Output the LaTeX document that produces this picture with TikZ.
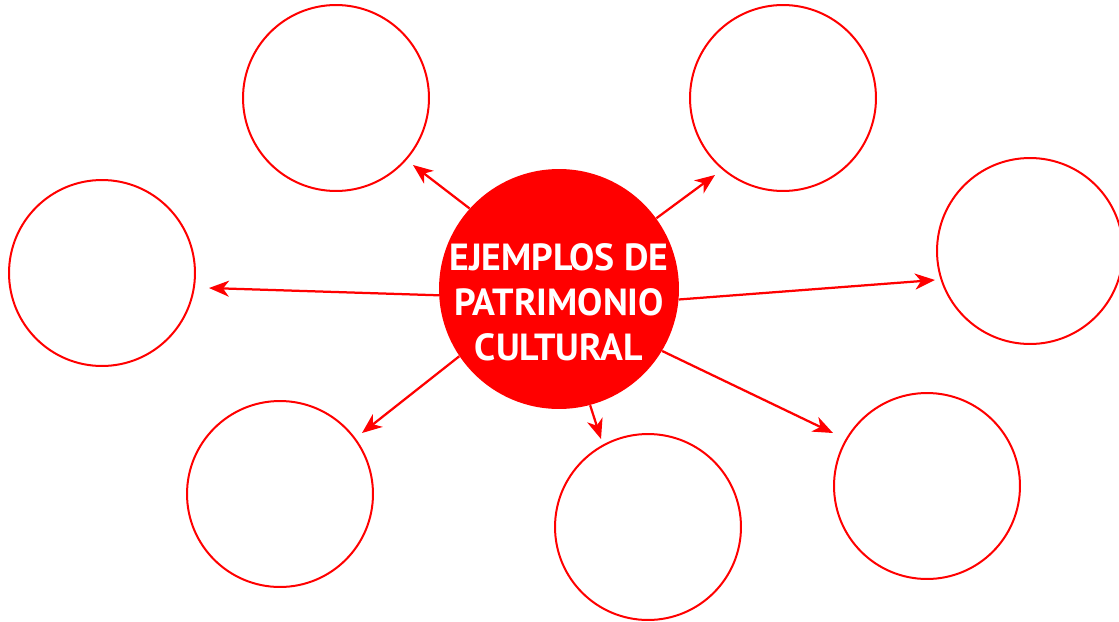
\documentclass[tikz,border=0pt]{standalone}
\usepackage{fontspec}
\setsansfont{PT Sans}
\usepackage{xcolor}
\usepackage{tikz}
\usetikzlibrary{arrows.meta,positioning,calc}
\definecolor{rojo}{RGB}{255,0,0}
\tikzset{
    circulo/.style={
        circle,
        draw=rojo,
        line width=0.04cm,
        minimum size=3.72cm,
        inner sep=0pt
    },
    central/.style={
        circle,
        fill=rojo,
        minimum size=4.8cm,
        inner sep=0pt
    },
    titulo/.style={
        align=center,
        text=white,
        inner sep=0pt,
        font=\sffamily\bfseries\fontsize{21.5}{25.5}\selectfont
    },
    flecha/.style={-{Stealth[length=4mm, width=3.2mm, inset=1.2mm]}, draw=rojo, line width=0.045cm}
}

\begin{document}
\begin{tikzpicture}[x=0.02cm, y=-0.02cm]
        \useasboundingbox (0,0) rectangle (1119,622);

        \node[central] (centro) at (559,289) {};
        \node[titulo] (texto) at (559,302) {EJEMPLOS DE\\PATRIMONIO\\CULTURAL};

        \node[circulo] (arribaIzq) at (336,98) {};
        \node[circulo] (arribaDer) at (783,98) {};
        \node[circulo] (izquierda) at (102,273) {};
        \node[circulo] (derecha) at (1030,251) {};
        \node[circulo] (abajoIzq) at (280,494) {};
        \node[circulo] (abajoCentro) at (648,527) {};
        \node[circulo] (abajoDer) at (927,486) {};

        % puntas de las flechas, antes de tocar cada circulo
        \coordinate (pArribaIzq) at (413,165);
        \coordinate (pArribaDer) at (715,175);
        \coordinate (pIzquierda) at (209,288);
        \coordinate (pDerecha) at (935,280);
        \coordinate (pAbajoIzq) at (362,433);
        \coordinate (pAbajoCentro) at (601,439);
        \coordinate (pAbajoDer) at (833,433);

        \foreach \a/\p in {138/pArribaIzq,36/pArribaDer,183/pIzquierda,-5/pDerecha,
                           214/pAbajoIzq,285/pAbajoCentro,329/pAbajoDer}
            \draw[flecha] (centro.\a) -- (\p);
    \end{tikzpicture}
\end{document}
